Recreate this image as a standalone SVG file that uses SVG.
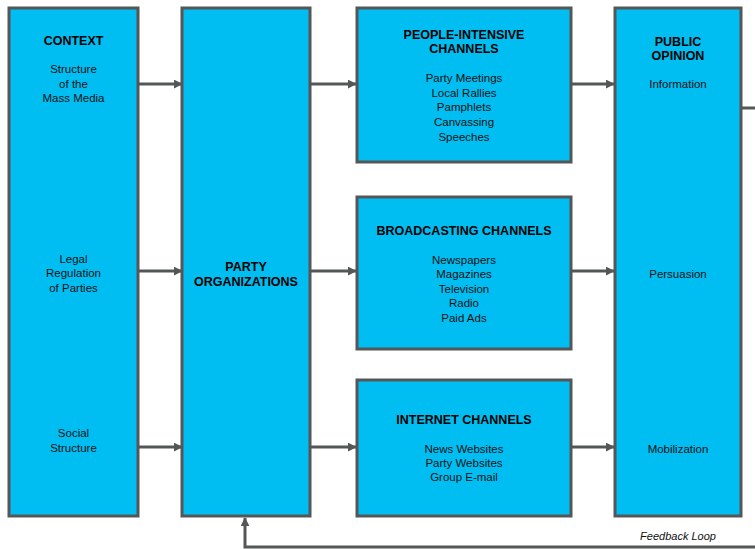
<svg xmlns="http://www.w3.org/2000/svg" width="755" height="549" viewBox="0 0 755 549">
  <style>
    .box { fill: #00BEF2; stroke: #555657; stroke-width: 3; }
    .title { font-family: "Liberation Sans", Arial, sans-serif; font-weight: bold; font-size: 12.5px; fill: #000; text-anchor: middle; }
    .item { font-family: "Liberation Sans", Arial, sans-serif; font-size: 11.5px; fill: #111; text-anchor: middle; }
    .link { stroke: #555657; stroke-width: 3; fill: none; }
    .note { font-family: "Liberation Sans", Arial, sans-serif; font-style: italic; font-size: 11px; fill: #111; text-anchor: middle; }
  </style>
  <defs>
    <marker id="arrow" viewBox="0 0 6 6" refX="5.5" refY="3" markerWidth="3" markerHeight="3" markerUnits="strokeWidth" orient="auto">
      <path d="M0,0 L6,3 L0,6 Z" fill="#555657"/>
    </marker>
  </defs>
  <rect width="755" height="549" fill="#fff"/>

  <g id="connectors">
    <line class="link" x1="138" y1="84" x2="182" y2="84" marker-end="url(#arrow)"/>
    <line class="link" x1="138" y1="271" x2="182" y2="271" marker-end="url(#arrow)"/>
    <line class="link" x1="138" y1="447" x2="182" y2="447" marker-end="url(#arrow)"/>
    <line class="link" x1="310" y1="84" x2="356" y2="84" marker-end="url(#arrow)"/>
    <line class="link" x1="310" y1="271" x2="356" y2="271" marker-end="url(#arrow)"/>
    <line class="link" x1="310" y1="447" x2="356" y2="447" marker-end="url(#arrow)"/>
    <line class="link" x1="571" y1="84" x2="614" y2="84" marker-end="url(#arrow)"/>
    <line class="link" x1="571" y1="271" x2="614" y2="271" marker-end="url(#arrow)"/>
    <line class="link" x1="571" y1="447" x2="614" y2="447" marker-end="url(#arrow)"/>
    <!-- feedback loop back to party organizations -->
    <polyline class="link" points="741,108 757,108 757,547 245,547 245,518" marker-end="url(#arrow)"/>
    <text class="note" x="678" y="540">Feedback Loop</text>
  </g>

  <g id="context">
    <rect class="box" x="9" y="8" width="129" height="508"/>
    <text class="title" x="73.5" y="45">CONTEXT</text>
    <text class="item" x="73.5" y="73">Structure</text>
    <text class="item" x="73.5" y="88">of the</text>
    <text class="item" x="73.5" y="102">Mass Media</text>
    <text class="item" x="73.5" y="263">Legal</text>
    <text class="item" x="73.5" y="277">Regulation</text>
    <text class="item" x="73.5" y="292">of Parties</text>
    <text class="item" x="73.5" y="437">Social</text>
    <text class="item" x="73.5" y="452">Structure</text>
  </g>

  <g id="party-organizations">
    <rect class="box" x="182" y="8" width="128" height="508"/>
    <text class="title" x="246" y="271">PARTY</text>
    <text class="title" x="246" y="286">ORGANIZATIONS</text>
  </g>

  <g id="people-intensive-channels">
    <rect class="box" x="357" y="8" width="214" height="154"/>
    <text class="title" x="464" y="39">PEOPLE-INTENSIVE</text>
    <text class="title" x="464" y="53">CHANNELS</text>
    <text class="item" x="464" y="82">Party Meetings</text>
    <text class="item" x="464" y="97">Local Rallies</text>
    <text class="item" x="464" y="111">Pamphlets</text>
    <text class="item" x="464" y="126">Canvassing</text>
    <text class="item" x="464" y="141">Speeches</text>
  </g>

  <g id="broadcasting-channels">
    <rect class="box" x="357" y="197" width="214" height="152"/>
    <text class="title" x="464" y="235">BROADCASTING CHANNELS</text>
    <text class="item" x="464" y="264">Newspapers</text>
    <text class="item" x="464" y="278">Magazines</text>
    <text class="item" x="464" y="293">Television</text>
    <text class="item" x="464" y="307">Radio</text>
    <text class="item" x="464" y="322">Paid Ads</text>
  </g>

  <g id="internet-channels">
    <rect class="box" x="357" y="380" width="214" height="136"/>
    <text class="title" x="464" y="424">INTERNET CHANNELS</text>
    <text class="item" x="464" y="453">News Websites</text>
    <text class="item" x="464" y="467">Party Websites</text>
    <text class="item" x="464" y="481">Group E-mail</text>
  </g>

  <g id="public-opinion">
    <rect class="box" x="615" y="8" width="126" height="508"/>
    <text class="title" x="678" y="46">PUBLIC</text>
    <text class="title" x="678" y="60">OPINION</text>
    <text class="item" x="678" y="88">Information</text>
    <text class="item" x="678" y="278">Persuasion</text>
    <text class="item" x="678" y="453">Mobilization</text>
  </g>
</svg>
